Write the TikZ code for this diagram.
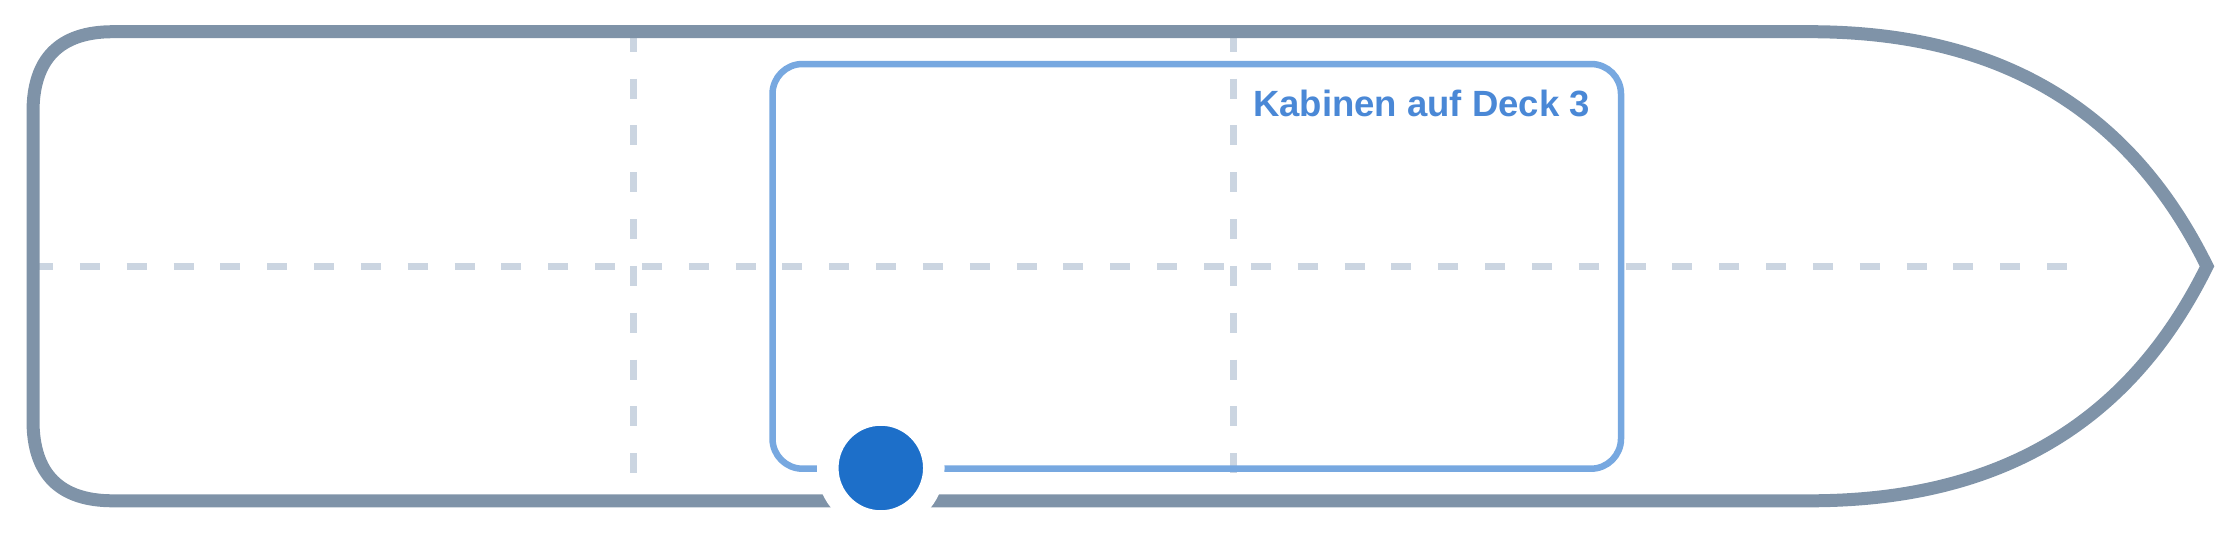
\documentclass[tikz,border=0pt]{standalone}
\usepackage{fontspec}
\newfontfamily\labfont{Liberation Sans}
\definecolor{hullc}{RGB}{127,147,168}
\definecolor{gridc}{RGB}{203,213,225}
\definecolor{circc}{RGB}{29,111,201}
\definecolor{cabc}{RGB}{119,168,224}
\definecolor{textc}{RGB}{74,136,214}
\tikzset{
  hullline/.style={draw=hullc, line width=13pt, line join=miter},
  gridline/.style={draw=gridc, line width=7pt, dash pattern=on 20pt off 26.84pt},
  cabinbox/.style={draw=cabc, line width=6.5pt, rounded corners=30pt},
  marker/.style={circle, fill=circc, draw=white, line width=21.5pt, minimum size=106pt, inner sep=0pt},
  cablabel/.style={text=textc, font=\labfont\bfseries\fontsize{36.5}{40}\selectfont, inner sep=0pt, anchor=base east}
}
\begin{document}
\begin{tikzpicture}[x=1pt,y=-1pt]
\useasboundingbox (0,0) rectangle (2240,533);
% grid lines
\coordinate (hL) at (33,266.3);
\coordinate (hR) at (2070,266.3);
\coordinate (v1T) at (633,31.7);
\coordinate (v1B) at (633,500.8);
\coordinate (v2T) at (1233,31.7);
\coordinate (v2B) at (1233,500.8);
\draw[gridline] (hL) -- (hR);
\draw[gridline] (v1T) -- (v1B);
\draw[gridline] (v2T) -- (v2B);
% hull
\draw[hullline] (33,112) .. controls (33,58.7) and (59.7,31.7) .. (113,31.7)
  -- (1810,31.7) .. controls (2000,31.7) and (2130,110) .. (2207,266.3)
  .. controls (2130,422.6) and (2000,500.8) .. (1810,500.8)
  -- (113,500.8) .. controls (59.7,500.8) and (33,474) .. (33,420.6) -- cycle;
% cabin box
\draw[cabinbox] (772.5,64) rectangle (1621,468.7);
\node[cablabel] (label) at (1590,116) {Kabinen auf Deck 3};
% marker
\node[marker] (dot) at (880.8,468) {};
\end{tikzpicture}
\end{document}
